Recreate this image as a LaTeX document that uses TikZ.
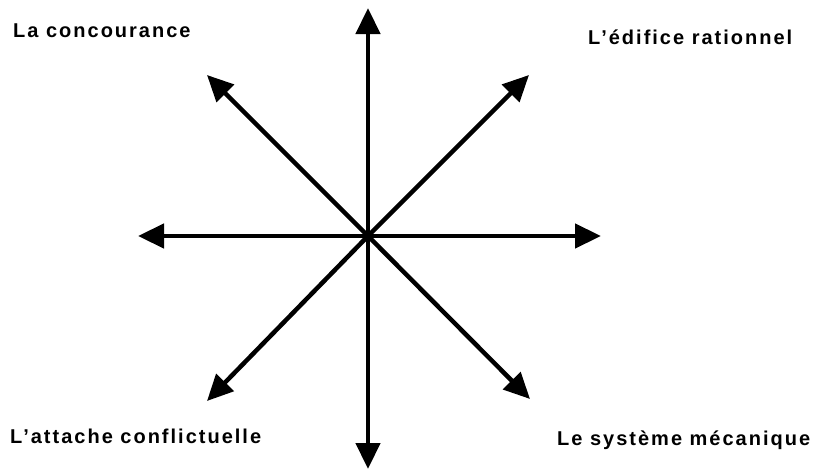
\documentclass[tikz,border=0pt]{standalone}
\usepackage{fontspec}
\setmainfont{Liberation Sans}[LetterSpace=10]
\usetikzlibrary{arrows.meta}
\begin{document}
\begin{tikzpicture}[x=1pt,y=-1pt,
  ray/.style={line width=4.5pt,-{Triangle[length=26pt,width=24pt]}},
  lbl/.style={anchor=base west,inner sep=0pt,font=\fontsize{20}{23}\selectfont\bfseries}]
\useasboundingbox (0,0) rectangle (823,471);
\coordinate (c) at (368,236);
\coordinate (n) at (368,8);
\coordinate (s) at (368,469);
\coordinate (w) at (138,236);
\coordinate (e) at (601,236);
\coordinate (nw) at (207,75);
\coordinate (ne) at (529,75);
\coordinate (sw) at (207,401);
\coordinate (se) at (530,399);
\foreach \t in {n,s,w,e,nw,ne,sw,se} \draw[ray] (c) -- (\t);
\fill (c) circle (4.5);
\node[lbl] (t1) at (13,37) {La concourance};
\node[lbl] (t2) at (588,44) {L’édifice rationnel};
\node[lbl] (t3) at (10,443) {L’attache conflictuelle};
\node[lbl] (t4) at (557,445) {Le système mécanique};
\end{tikzpicture}
\end{document}
